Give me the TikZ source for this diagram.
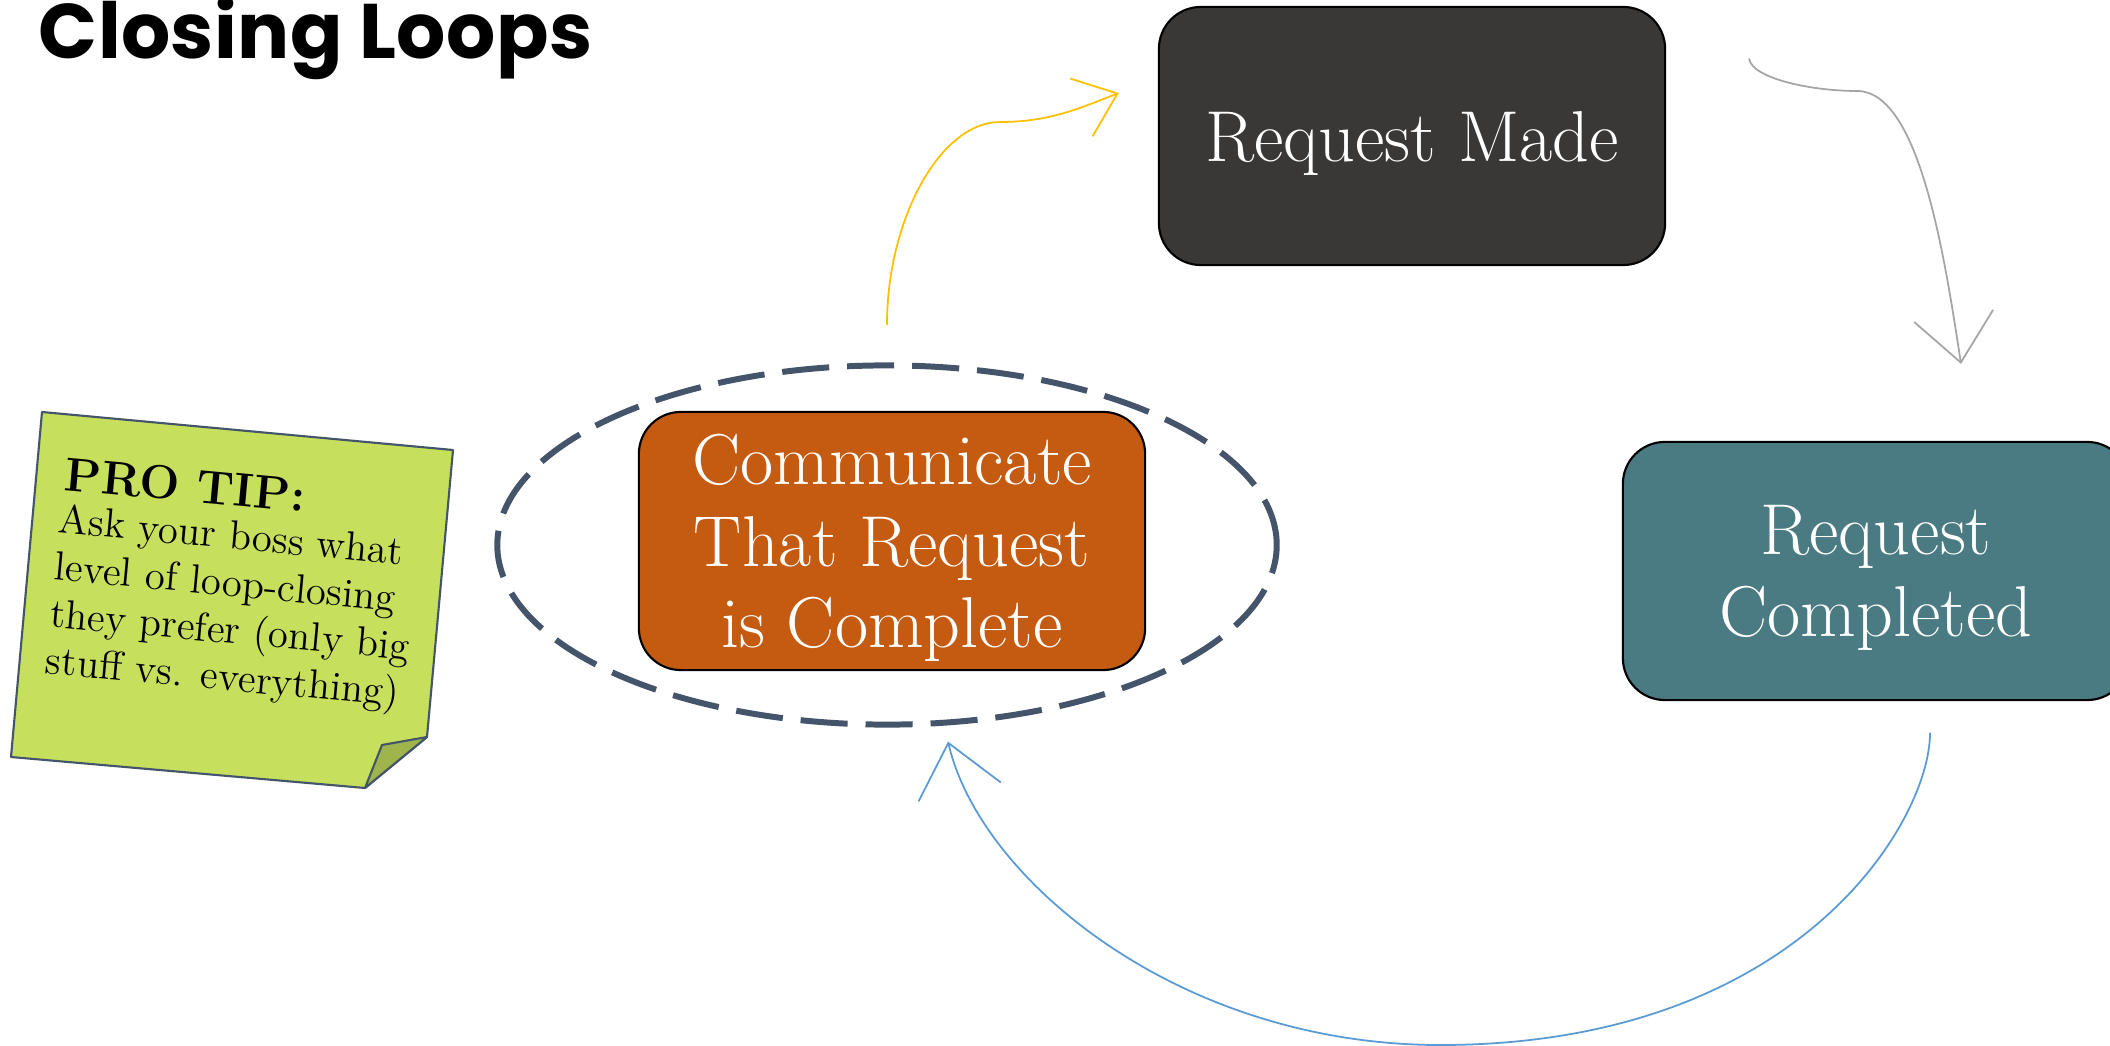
\documentclass[tikz,border=0pt]{standalone}
\usepackage{fontspec}
\usepackage{xcolor}
\usepackage{tikz}
\usetikzlibrary{positioning,arrows.meta,calc,shapes.geometric}
\newfontfamily\headfont{Poppins}[LetterSpace=0.5]
\definecolor{darkbox}{HTML}{3A3836}
\definecolor{tealbox}{HTML}{4A7A82}
\definecolor{rust}{HTML}{C55A11}
\definecolor{ringblue}{HTML}{44546A}
\definecolor{gold}{HTML}{FFC000}
\definecolor{ashgray}{HTML}{A5A5A5}
\definecolor{skyblue}{HTML}{5B9BD5}
\definecolor{notegreen}{HTML}{C6E05D}
\definecolor{foldgreen}{HTML}{9FB54C}

\begin{document}
\begin{tikzpicture}[
    x=0.01cm, y=-0.01cm,
    stepbox/.style={draw=black, line width=0.6pt, rounded corners=4.2mm, minimum width=5.06cm, minimum height=2.58cm, inner sep=0pt, text depth=0pt, align=center, text=white, font=\fontsize{20.5}{23.2}\selectfont},
    ring/.style={ellipse, draw=ringblue, line width=1.7pt, dash pattern=on 13.4pt off 5.1pt, minimum width=7.79cm, minimum height=3.59cm, inner sep=0pt},
    flow/.style={line width=0.5pt, line cap=round},
    note/.style={draw=ringblue, line width=0.6pt, line join=round}
]
    \path[use as bounding box, fill=white] (0,0) rectangle (2110,1046);

    \node[anchor=base west, inner sep=0pt, font=\headfont\bfseries\fontsize{22}{26}\selectfont] (title) at (38,59) {Closing Loops};

    % the three steps of the loop
    \node[stepbox, fill=darkbox] (made) at (1412,136) {Request Made};
    \node[stepbox, fill=tealbox] (done) at (1876,571) {Request\\Completed};
    \node[stepbox, fill=rust] (tell) at (892,541) {Communicate\\That Request\\is Complete};
    \node[ring] (loop) at (887,545) {};

    % sticky note
    \draw[note, fill=notegreen] (42,412) -- (453,450) -- (427,737) -- (365,788) -- (11,757) -- cycle;
    \draw[note, fill=foldgreen] (427,737) -- (382,745) -- (365,788) -- cycle;
    \node[anchor=base west, rotate=-5.3, inner sep=0pt, font=\bfseries\fontsize{13.5}{16}\selectfont] (tiphead) at (63,490) {PRO TIP:};
    \node[anchor=north west, rotate=-5.3, inner sep=0pt, align=left, font=\fontsize{11.6}{13.4}\selectfont] (tipbody) at (60,503) {Ask your boss what\\level of loop-closing\\they prefer (only big\\stuff vs. everything)};

    % arrows between the steps
    \coordinate (goldtail) at ($(loop.north)+(0,-38)$);
    \coordinate (goldhead) at ($(made.west)+(-39,-43)$);
    \coordinate (graytail) at ($(made.east)+(83,-77)$);
    \coordinate (grayhead) at ($(done.north)+(85,-77)$);
    \coordinate (bluetail) at ($(done.south)+(54,32)$);
    \coordinate (bluehead) at ($(loop.south)+(61,14)$);

    \draw[flow, draw=gold, -{Straight Barb[length=11pt, width=17.6pt]}] (goldtail) .. controls (887,220) and (940,122) .. (1000,122) .. controls (1050,122) and (1080,108) .. (goldhead);
    \draw[flow, draw=ashgray, -{Straight Barb[length=13.4pt, width=22.7pt]}] (graytail) .. controls (1752,78) and (1810,91) .. (1857,91) .. controls (1920,91) and (1945,260) .. (grayhead);
    \draw[flow, draw=skyblue, -{Straight Barb[length=14.3pt, width=24pt]}] (bluetail) .. controls (1930,820) and (1800,1045) .. (1440,1045) .. controls (1180,1045) and (980,880) .. (bluehead);
\end{tikzpicture}
\end{document}
